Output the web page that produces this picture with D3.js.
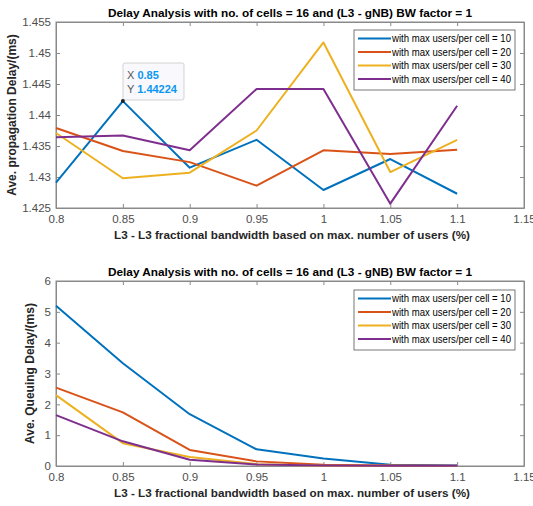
<!DOCTYPE html>
<html>
<head>
<meta charset="utf-8">
<script src="https://cdn.jsdelivr.net/npm/d3@7"></script>
<style>
  body{margin:0;background:#fff;}
  svg text{font-family:"Liberation Sans",Arial,sans-serif;}
</style>
</head>
<body>
<svg id="fig" width="533" height="506"></svg>
<script>
const xValues=[0.8,0.85,0.9,0.95,1,1.05,1.1];
const xTicks=[0.8,0.85,0.9,0.95,1,1.05,1.1,1.15];
const seriesNames=["with max users/per cell = 10","with max users/per cell = 20","with max users/per cell = 30","with max users/per cell = 40"];
const seriesColors=["#0072BD","#D95319","#EDB120","#7E2F8E"];

// top plot: propagation delay
const propTicks=[1.425,1.43,1.435,1.44,1.445,1.45,1.455];
const prop10=[1.4291,1.44224,1.4315,1.4360,1.4279,1.4329,1.4273];
const prop20=[1.4379,1.4342,1.4324,1.4286,1.4343,1.4337,1.4344];
const prop30=[1.4371,1.4298,1.4307,1.4375,1.4517,1.4308,1.4360];
const prop40=[1.4364,1.4367,1.4343,1.4442,1.4442,1.4257,1.4415];

// bottom plot: queuing delay
const queueTicks=[0,1,2,3,4,5,6];
const queue10=[5.20,3.33,1.68,0.54,0.24,0.04,0.02];
const queue20=[2.54,1.74,0.52,0.15,0.04,0.02,0.01];
const queue30=[2.30,0.74,0.29,0.06,0.01,0.005,0.0];
const queue40=[1.65,0.80,0.20,0.05,0.02,0.01,0.01];

const title="Delay Analysis with no. of cells = 16 and (L3 - gNB) BW factor = 1";
const xLabel="L3 - L3 fractional bandwidth based on max. number of users (%)";

const svg=d3.select("#fig");
const frameColor="#8a8a8a";
const tickTextColor="#4d4d4d";

function drawPanel(opt){
  const g=svg.append("g");
  const x=d3.scaleLinear().domain([0.8,1.15]).range([opt.left,opt.right]);
  const y=d3.scaleLinear().domain(opt.yDomain).range([opt.bottom,opt.top]);

  // frame
  g.append("rect")
    .attr("x",opt.left).attr("y",opt.top)
    .attr("width",opt.right-opt.left).attr("height",opt.bottom-opt.top)
    .attr("fill","#fff").attr("stroke",frameColor).attr("stroke-width",1);

  // x ticks bottom + top, inward
  const xAx=d3.axisBottom(x).tickValues(xTicks).tickSizeInner(-4).tickSizeOuter(0)
    .tickFormat(d3.format("~g")).tickPadding(7);
  const xg=g.append("g").attr("transform","translate(0,"+opt.bottom+")").call(xAx);
  const xgTop=g.append("g").attr("transform","translate(0,"+opt.top+")")
    .call(d3.axisTop(x).tickValues(xTicks).tickSizeInner(-4).tickSizeOuter(0).tickFormat(""));

  const yAx=d3.axisLeft(y).tickValues(opt.yTicks).tickSizeInner(-4).tickSizeOuter(0)
    .tickFormat(d3.format("~g")).tickPadding(5);
  const yg=g.append("g").attr("transform","translate("+opt.left+",0)").call(yAx);
  const ygRight=g.append("g").attr("transform","translate("+opt.right+",0)")
    .call(d3.axisRight(y).tickValues(opt.yTicks).tickSizeInner(-4).tickSizeOuter(0).tickFormat(""));

  [xg,xgTop,yg,ygRight].forEach(a=>{
    a.select(".domain").attr("stroke",frameColor);
    a.selectAll(".tick line").attr("stroke",frameColor);
    a.selectAll(".tick text").attr("fill",tickTextColor)
      .style("font-size","11.5px").style("font-family","'Liberation Sans',Arial,sans-serif");
  });

  // lines
  const line=d3.line().x((d,i)=>x(xValues[i])).y(d=>y(d));
  opt.series.forEach((s,i)=>{
    g.append("path").datum(s)
      .attr("d",line).attr("fill","none")
      .attr("stroke",seriesColors[i]).attr("stroke-width",2)
      .attr("stroke-linejoin","round");
  });

  // title
  g.append("text").attr("x",(opt.left+opt.right)/2).attr("y",opt.top-5)
    .attr("text-anchor","middle").style("font-size","11.8px").style("font-weight","bold")
    .attr("fill","#000").text(title);

  // x label
  g.append("text").attr("x",(opt.left+opt.right)/2+2).attr("y",opt.bottom+31)
    .attr("text-anchor","middle").style("font-size","11.7px").style("font-weight","bold")
    .attr("fill","#262626").text(xLabel);

  // y label
  g.append("text")
    .attr("transform","translate("+opt.yLabelX+","+((opt.top+opt.bottom)/2)+") rotate(-90)")
    .attr("text-anchor","middle").style("font-size","12px").style("font-weight","bold")
    .attr("fill","#262626").text(opt.yLabel);

  // legend
  const lg=g.append("g");
  lg.append("rect").attr("x",opt.legend.x).attr("y",opt.legend.y)
    .attr("width",161).attr("height",60)
    .attr("fill","#fff").attr("stroke","#555").attr("stroke-width",0.8);
  seriesNames.forEach((name,i)=>{
    const cy=opt.legend.y+8.5+i*13.5;
    lg.append("line").attr("x1",opt.legend.x+4).attr("x2",opt.legend.x+37)
      .attr("y1",cy).attr("y2",cy).attr("stroke",seriesColors[i]).attr("stroke-width",2);
    lg.append("text").attr("x",opt.legend.x+38).attr("y",cy+3.8)
      .attr("textLength",119).attr("lengthAdjust","spacingAndGlyphs")
      .style("font-size","10.5px").attr("fill","#000").text(name);
  });
  return {x:x,y:y,g:g};
}

const topPanel=drawPanel({
  left:56,right:524,top:22,bottom:208,
  yDomain:[1.425,1.455],yTicks:propTicks,
  series:[prop10,prop20,prop30,prop40],
  yLabel:"Ave. propagation Delay/(ms)",yLabelX:16,
  legend:{x:354,y:30}
});

const bottomPanel=drawPanel({
  left:56,right:524,top:281,bottom:466,
  yDomain:[0,6],yTicks:queueTicks,
  series:[queue10,queue20,queue30,queue40],
  yLabel:"Ave. Queuing Delay/(ms)",yLabelX:34,
  legend:{x:354,y:290}
});

// data tip on the top panel
const tipX=0.85, tipY=prop10[1];
const px=topPanel.x(tipX), py=topPanel.y(tipY);
const tip=topPanel.g.append("g");
tip.append("rect").attr("x",123).attr("y",63).attr("width",61).attr("height",37)
  .attr("rx",2).attr("fill","#f9f9fd").attr("stroke","#c8c8c8").attr("stroke-width",0.8);
const t1=tip.append("text").attr("x",127).attr("y",79).style("font-size","11px");
t1.append("tspan").attr("fill","#555").text("X ");
t1.append("tspan").attr("fill","#0a97f0").style("font-weight","bold").text(tipX);
const t2=tip.append("text").attr("x",127).attr("y",93).style("font-size","11px");
t2.append("tspan").attr("fill","#555").text("Y ");
t2.append("tspan").attr("fill","#0a97f0").style("font-weight","bold").text(tipY);
tip.append("circle").attr("cx",px).attr("cy",py).attr("r",2).attr("fill","#222");
</script>
</body>
</html>
